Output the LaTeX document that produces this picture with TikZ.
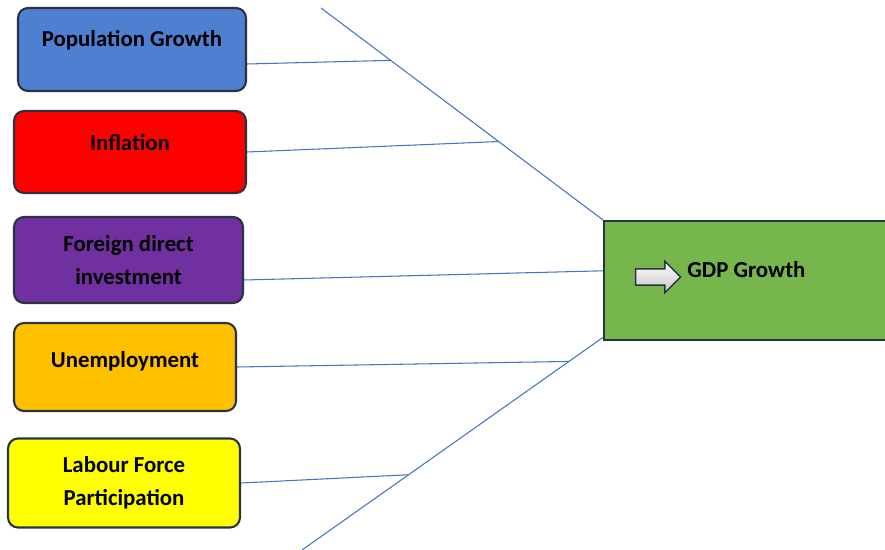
\documentclass[tikz,border=0pt]{standalone}
\usepackage{fontspec}
\setmainfont{Carlito}
\usetikzlibrary{shapes.arrows,calc}

\definecolor{popblue}{HTML}{4F7FD1}
\definecolor{inflred}{HTML}{FF0000}
\definecolor{fdipurple}{HTML}{7030A0}
\definecolor{unempamber}{HTML}{FFC000}
\definecolor{labouryellow}{HTML}{FFFF00}
\definecolor{gdpgreen}{HTML}{77B54D}
\definecolor{boxedge}{HTML}{2A3342}
\definecolor{linkblue}{HTML}{4472C4}

\begin{document}
\begin{tikzpicture}[x=0.02cm, y=-0.02cm]
    \tikzset{
        factor/.style={draw=boxedge, line width=1.2pt, rounded corners=0.2cm,
                       inner sep=0pt, align=center,
                       font=\bfseries\fontsize{13}{19}\selectfont},
        link/.style={draw=linkblue, line width=0.6pt}
    }
    \useasboundingbox (0,0) rectangle (885,550);
    \node[factor, fill=popblue, minimum width=4.56cm,
          text height=0.78cm, text depth=0.88cm] (pop) at (132,49.5) {Population Growth};
    \node[factor, fill=inflred, minimum width=4.64cm,
          text height=0.80cm, text depth=0.84cm] (infl) at (130,152) {Inflation};
    \node[factor, fill=fdipurple, minimum width=4.58cm, minimum height=1.72cm]
          (fdi) at (128.5,260) {Foreign direct\\investment};
    \node[factor, fill=unempamber, minimum width=4.44cm,
          text height=0.88cm, text depth=0.88cm] (unemp) at (125,367) {Unemployment};
    \node[factor, fill=labouryellow, minimum width=4.64cm, minimum height=1.78cm]
          (labour) at (124,483) {Labour Force\\Participation};
    \node[draw=boxedge, line width=1.2pt, fill=gdpgreen,
          minimum width=5.72cm, minimum height=2.38cm] (gdp) at (747,280.5) {};
    \node[single arrow, draw=boxedge, line width=0.8pt, top color=white, bottom color=gray!45,
          minimum height=0.9cm, minimum width=0.6cm, single arrow head extend=0.15cm,
          inner sep=0.15cm] (gdparrow) at (654,277) {};
    \node[anchor=west, inner sep=0pt, font=\bfseries\fontsize{13}{19}\selectfont]
          (gdptext) at (687,270) {GDP Growth};
    \coordinate (topend) at (321,8);
    \coordinate (botend) at (302,550);
    \coordinate (gdplow) at ($(gdp.north west)!0.97!(gdp.south west)$);
    \coordinate (popjoin) at ($(topend)!0.247!(gdp.north west)$);
    \coordinate (infljoin) at ($(topend)!0.63!(gdp.north west)$);
    \coordinate (fdijoin) at ($(gdp.north west)!0.42!(gdp.south west)$);
    \coordinate (unempjoin) at ($(gdplow)!0.113!(botend)$);
    \coordinate (labourjoin) at ($(gdplow)!0.646!(botend)$);
    \path[link] (topend)                 edge (gdp.north west)
                (gdplow)                 edge (botend)
                ([yshift=-0.29cm]pop.east) edge (popjoin)
                (infl.east)              edge (infljoin)
                ([yshift=-0.4cm]fdi.east) edge (fdijoin)
                (unemp.east)             edge (unempjoin)
                (labour.east)            edge (labourjoin);
\end{tikzpicture}
\end{document}
